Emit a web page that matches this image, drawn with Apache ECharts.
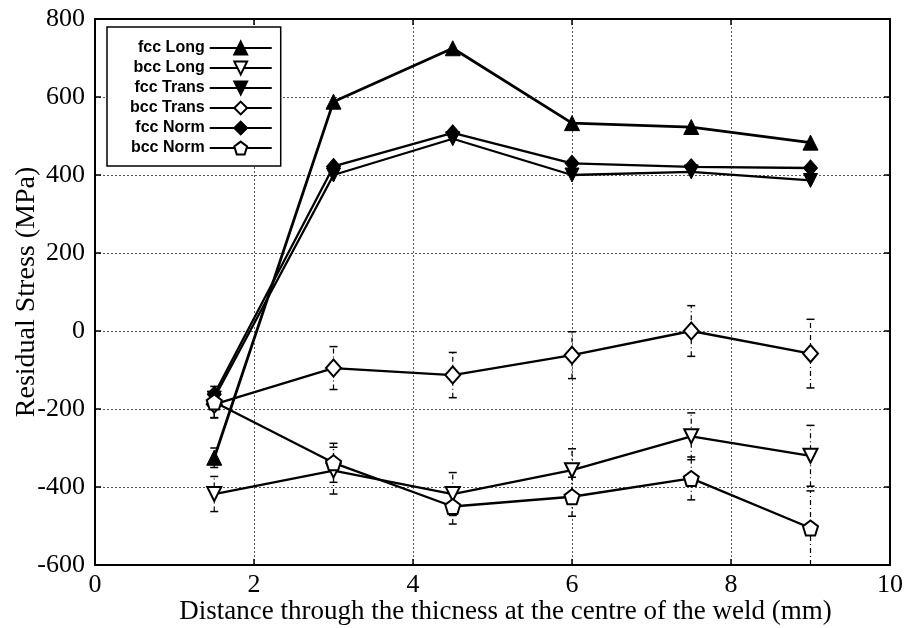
<!DOCTYPE html>
<html>
<head>
<meta charset="utf-8">
<script src="https://cdn.jsdelivr.net/npm/echarts@6/dist/echarts.min.js"></script>
<style>
html,body{margin:0;padding:0;background:#fff;}
#chart{width:910px;height:628px;}
</style>
</head>
<body>
<div id="chart"></div>
<script>
// ---- data ----
const positions = [1.5, 3, 4.5, 6, 7.5, 9];
const fccLong  = [-325, 588, 725, 533, 523, 483];
const bccLong  = [-418, -358, -418, -357, -270, -320];
const fccTrans = [-172, 400, 493, 400, 408, 386];
const bccTrans = [-188, -95, -113, -62, 0, -58];
const fccNorm  = [-162, 422, 508, 430, 421, 418];
const bccNorm  = [-182, -338, -450, -425, -378, -505];
const fccLongErr  = [25, 0, 0, 0, 0, 0];
const bccLongErr  = [45, 60, 55, 55, 60, 78];
const bccTransErr = [35, 55, 58, 60, 65, 88];
const bccNormErr  = [40, 50, 45, 50, 55, 95];
const xTicks = [0, 2, 4, 6, 8, 10];
const yTicks = [-600, -400, -200, 0, 200, 400, 600, 800];

const serif = '"Liberation Serif", "Times New Roman", serif';
const pentagon = 'path://M0,-1 L0.951,-0.309 L0.588,0.809 L-0.588,0.809 L-0.951,-0.309 Z';

function pairs(ys){ return positions.map((x,i)=>[x, ys[i]]); }
function errData(ys, es){ return positions.map((x,i)=>[x, ys[i]-es[i], ys[i]+es[i]]).filter((d,i)=>es[i]>0); }

function lineSeries(name, ys, symbol, filled, rotate, size, width){
  return {
    name: name, type: 'line', data: pairs(ys),
    symbol: symbol, symbolSize: size, symbolRotate: rotate, showAllSymbol: true,
    lineStyle: {color: '#000', width: width},
    itemStyle: filled ? {color: '#000', borderColor: '#000', borderWidth: 1}
                      : {color: '#fff', borderColor: '#000', borderWidth: 2},
    z: 5, animation: false
  };
}
function errSeries(ys, es){
  return {
    type: 'custom', data: errData(ys, es), z: 3, silent: true, animation: false,
    renderItem: function(params, api){
      const x = api.value(0);
      const lo = api.coord([x, api.value(1)]);
      const hi = api.coord([x, api.value(2)]);
      const st = {stroke: '#000', lineWidth: 1.2, lineDash: [5, 3, 1, 3]};
      const cs = {stroke: '#000', lineWidth: 1.5};
      return {type: 'group', children: [
        {type: 'line', shape: {x1: lo[0], y1: lo[1], x2: hi[0], y2: hi[1]}, style: st},
        {type: 'line', shape: {x1: lo[0]-4, y1: lo[1], x2: lo[0]+4, y2: lo[1]}, style: cs},
        {type: 'line', shape: {x1: hi[0]-4, y1: hi[1], x2: hi[0]+4, y2: hi[1]}, style: cs}
      ]};
    },
    encode: {x: 0, y: [1, 2]}
  };
}

const chart = echarts.init(document.getElementById('chart'), null, {renderer: 'canvas'});
const axisLine = {show: true, onZero: false, lineStyle: {color: '#000', width: 2}};
const tickIn = {show: true, inside: true, length: 6, lineStyle: {color: '#000', width: 1.5}};
const grid = {type: [2, 2], color: '#555', width: 1};

chart.setOption({
  backgroundColor: '#fff',
  animation: false,
  grid: {left: 95, right: 20, top: 19, bottom: 63, containLabel: false, outerBoundsMode: 'none'},
  legend: {
    orient: 'vertical', left: 107, top: 27, align: 'right',
    padding: [13, 8, 10, 23], itemGap: 4, itemWidth: 62, itemHeight: 16,
    backgroundColor: '#fff', borderColor: '#000', borderWidth: 1.5,
    textStyle: {fontFamily: '"Liberation Sans", Arial, sans-serif', fontSize: 16, lineHeight: 16, fontWeight: 'bold', color: '#000'},
    data: ['fcc Long', 'bcc Long', 'fcc Trans', 'bcc Trans', 'fcc Norm', 'bcc Norm']
  },
  xAxis: [{
    type: 'value', min: 0, max: 10, interval: 2,
    name: 'Distance through the thicness at the centre of the weld (mm)',
    nameLocation: 'middle', nameGap: 33, nameMoveOverlap: false,
    nameTextStyle: {fontFamily: serif, fontSize: 27, color: '#000', padding: [0, 0, 0, 26]},
    axisLine: axisLine, axisTick: tickIn,
    axisLabel: {fontFamily: serif, fontSize: 26, color: '#000', margin: 7,
      formatter: v => xTicks.includes(v) ? String(v) : ''},
    splitLine: {show: true, lineStyle: grid}
  }, {
    type: 'value', min: 0, max: 10, interval: 2, position: 'top',
    axisLine: axisLine, axisTick: tickIn, axisLabel: {show: false}, splitLine: {show: false}
  }],
  yAxis: [{
    type: 'value', min: -600, max: 800, interval: 200,
    name: 'Residual Stress (MPa)', nameLocation: 'middle', nameGap: 54, nameMoveOverlap: false,
    nameTextStyle: {fontFamily: serif, fontSize: 28, color: '#000'},
    axisLine: axisLine, axisTick: tickIn,
    axisLabel: {fontFamily: serif, fontSize: 26, color: '#000', margin: 10,
      formatter: v => yTicks.includes(v) ? String(v) : ''},
    splitLine: {show: true, lineStyle: grid}
  }, {
    type: 'value', min: -600, max: 800, interval: 200, position: 'right',
    axisLine: axisLine, axisTick: tickIn, axisLabel: {show: false}, splitLine: {show: false}
  }],
  series: [
    errSeries(fccLong, fccLongErr),
    errSeries(bccLong, bccLongErr),
    errSeries(bccTrans, bccTransErr),
    errSeries(bccNorm, bccNormErr),
    lineSeries('fcc Long', fccLong, 'triangle', true, 0, 15, 2.8),
    lineSeries('bcc Long', bccLong, 'triangle', false, 180, 14, 2.3),
    lineSeries('fcc Trans', fccTrans, 'triangle', true, 180, 14, 2.3),
    lineSeries('bcc Trans', bccTrans, 'diamond', false, 0, [15, 17], 2.3),
    lineSeries('fcc Norm', fccNorm, 'diamond', true, 0, [14, 16], 2.3),
    lineSeries('bcc Norm', bccNorm, pentagon, false, 0, 15, 2.3)
  ]
});
</script>
</body>
</html>
